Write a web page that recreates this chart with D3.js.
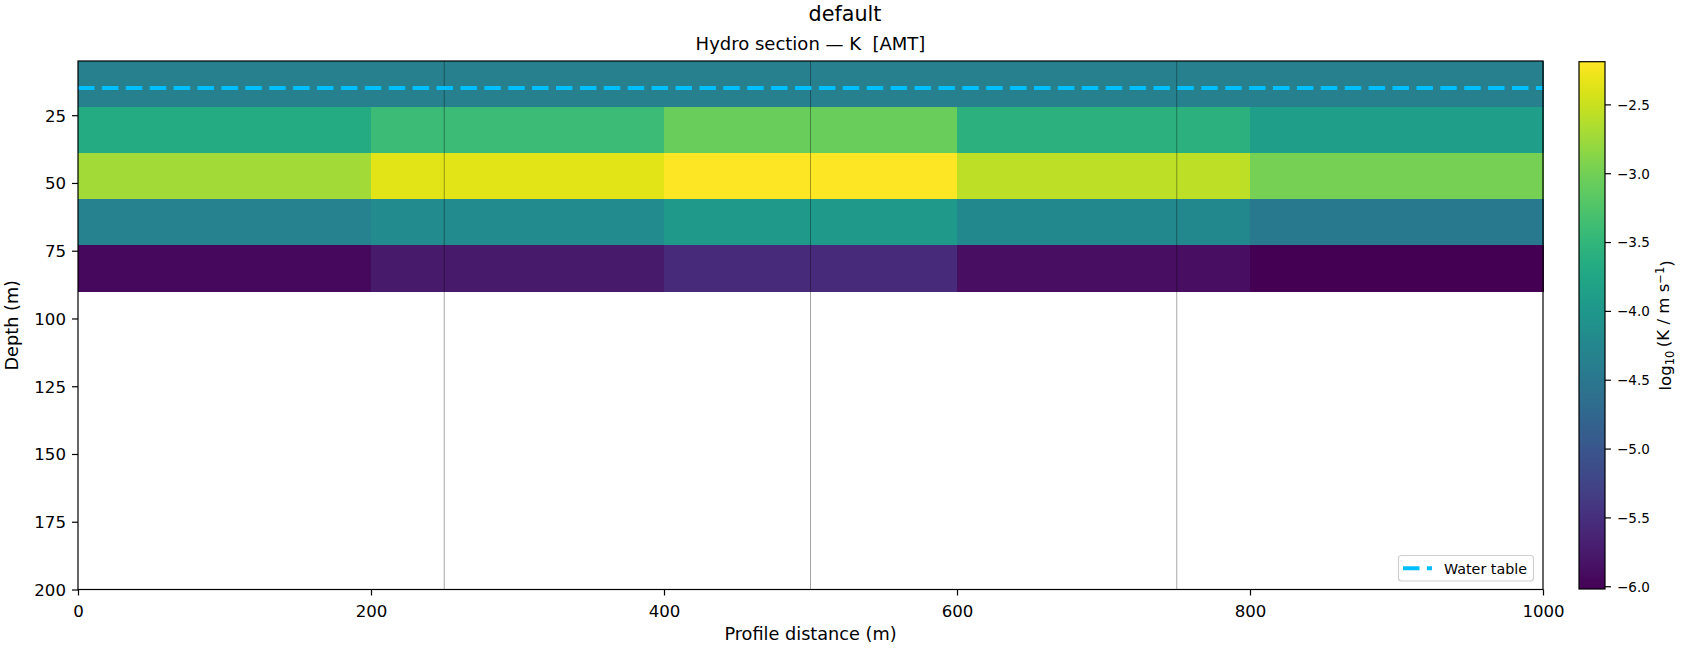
<!DOCTYPE html>
<html>
<head>
<meta charset="utf-8">
<script src="https://cdn.jsdelivr.net/npm/d3@7"></script>
<style>
  html, body { margin: 0; padding: 0; background: #fff; }
  svg { display: block; font-family: "DejaVu Sans", sans-serif; }
</style>
</head>
<body>
<svg id="chart" width="1690" height="650"></svg>
<script>
// ---- data ----
const distanceEdges = [0, 200, 400, 600, 800, 1000];
const depthEdges = [5, 22, 39, 56, 73, 90];
// log10(K) per layer (rows, top to bottom) and per distance block (columns)
const layer1 = [-4.37, -4.37, -4.37, -4.37, -4.37];
const layer2 = [-3.68, -3.41, -3.07, -3.57, -3.89];
const layer3 = [-2.72, -2.36, -2.19, -2.57, -2.99];
const layer4 = [-4.33, -4.18, -3.96, -4.23, -4.47];
const layer5 = [-5.94, -5.76, -5.56, -5.88, -6.02];
const layers = [layer1, layer2, layer3, layer4, layer5];
const waterTableDepth = 15;
const stationX = [250, 500, 750];
const xTicks = [0, 200, 400, 600, 800, 1000];
const yTicks = [25, 50, 75, 100, 125, 150, 175, 200];
const cbTicks = [-2.5, -3.0, -3.5, -4.0, -4.5, -5.0, -5.5, -6.0];
const xDomain = [0, 1000];
const yDomain = [5, 200];

// ---- layout ----
const svg = d3.select("#chart");
const L = 78, R = 1543, T = 61, B = 589.5;
const x = d3.scaleLinear().domain(xDomain).range([L, R]);
const y = d3.scaleLinear().domain(yDomain).range([T, B]);

const allVals = layers.flat();
const vExt = d3.extent(allVals);
const color = d3.scaleSequential(d3.interpolateViridis).domain(vExt);

// cells
const cells = [];
layers.forEach((row, i) => row.forEach((v, j) => cells.push({i, j, v})));
svg.append("g").selectAll("rect").data(cells).join("rect")
  .attr("x", d => x(distanceEdges[d.j]))
  .attr("y", d => y(depthEdges[d.i]))
  .attr("width", d => x(distanceEdges[d.j + 1]) - x(distanceEdges[d.j]) + 0.5)
  .attr("height", d => y(depthEdges[d.i + 1]) - y(depthEdges[d.i]) + 0.5)
  .attr("fill", d => color(d.v))
  .attr("shape-rendering", "crispEdges");

// station lines
svg.append("g").selectAll("line").data(stationX).join("line")
  .attr("x1", d => x(d)).attr("x2", d => x(d))
  .attr("y1", y(yDomain[0])).attr("y2", y(yDomain[1]))
  .attr("stroke", "#000").attr("stroke-opacity", 0.35).attr("stroke-width", 1);

// water table
svg.append("line")
  .attr("x1", x(xDomain[0])).attr("x2", x(xDomain[1]))
  .attr("y1", y(waterTableDepth)).attr("y2", y(waterTableDepth))
  .attr("stroke", "#00bfff").attr("stroke-width", 4)
  .attr("stroke-dasharray", "16.5,7.4");

// frame
svg.append("rect").attr("x", L).attr("y", T).attr("width", R - L).attr("height", B - T)
  .attr("fill", "none").attr("stroke", "#000").attr("stroke-width", 1.2);

// axes
const xAxis = svg.append("g").attr("transform", `translate(0,${B})`)
  .call(d3.axisBottom(x).tickValues(xTicks).tickFormat(d3.format("d")).tickSize(6).tickPadding(6));
const yAxis = svg.append("g").attr("transform", `translate(${L},0)`)
  .call(d3.axisLeft(y).tickValues(yTicks).tickFormat(d3.format("d")).tickSize(6).tickPadding(6));
[xAxis, yAxis].forEach(a => {
  a.select(".domain").remove();
  a.selectAll(".tick line").attr("stroke", "#000").attr("stroke-width", 1.2);
  a.selectAll(".tick text").attr("fill", "#000").style("font-size", "16.6px")
    .style("font-family", "DejaVu Sans, sans-serif");
});
xAxis.selectAll(".tick text").attr("dy", "0.95em");
yAxis.selectAll(".tick text").attr("dy", "0.36em");

// labels
svg.append("text").attr("x", (L + R) / 2).attr("y", 640).attr("text-anchor", "middle")
  .style("font-size", "17.7px").text("Profile distance (m)");
svg.append("text").attr("transform", `translate(18,${(T + B) / 2}) rotate(-90)`)
  .attr("text-anchor", "middle").style("font-size", "17.7px").text("Depth (m)");
svg.append("text").attr("x", 845).attr("y", 21).attr("text-anchor", "middle")
  .style("font-size", "20.7px").text("default");
svg.append("text").attr("x", (L + R) / 2).attr("y", 50).attr("text-anchor", "middle")
  .style("font-size", "18px").style("white-space", "pre").attr("xml:space", "preserve")
  .text("Hydro section — K  [AMT]");

// legend
const lg = svg.append("g");
lg.append("rect").attr("x", 1398.5).attr("y", 555.5).attr("width", 135).attr("height", 25.5)
  .attr("rx", 3).attr("fill", "#fff").attr("fill-opacity", 0.8)
  .attr("stroke", "#d0d0d0").attr("stroke-width", 1.2);
lg.append("line").attr("x1", 1403).attr("x2", 1432).attr("y1", 568.3).attr("y2", 568.3)
  .attr("stroke", "#00bfff").attr("stroke-width", 4).attr("stroke-dasharray", "16.5,7.4");
lg.append("text").attr("x", 1444).attr("y", 573.5).style("font-size", "14.3px").text("Water table");

// colorbar
const cbL = 1579, cbW = 26, cbT = 61.7, cbB = 589;
const cy = d3.scaleLinear().domain(vExt).range([cbB, cbT]);
const defs = svg.append("defs");
const grad = defs.append("linearGradient").attr("id", "cbgrad")
  .attr("x1", 0).attr("y1", 1).attr("x2", 0).attr("y2", 0);
d3.range(0, 1.0001, 0.02).forEach(t => {
  grad.append("stop").attr("offset", t).attr("stop-color", d3.interpolateViridis(t));
});
svg.append("rect").attr("x", cbL).attr("y", cbT).attr("width", cbW).attr("height", cbB - cbT)
  .attr("fill", "url(#cbgrad)").attr("stroke", "#000").attr("stroke-width", 1.2);
const cbAxis = svg.append("g").attr("transform", `translate(${cbL + cbW},0)`)
  .call(d3.axisRight(cy).tickValues(cbTicks).tickFormat(d3.format(".1f")).tickSize(6).tickPadding(6));
cbAxis.select(".domain").remove();
cbAxis.selectAll(".tick line").attr("stroke", "#000").attr("stroke-width", 1.2);
cbAxis.selectAll(".tick text").attr("fill", "#000").style("font-size", "13.5px")
  .style("font-family", "DejaVu Sans, sans-serif").attr("dy", "0.36em");

const cbl = svg.append("text").attr("transform", `translate(1671,${(cbT + cbB) / 2}) rotate(-90)`)
  .attr("text-anchor", "middle").style("font-size", "16.6px");
cbl.append("tspan").text("log");
cbl.append("tspan").attr("dy", "0.3em").style("font-size", "11.5px").text("10");
cbl.append("tspan").attr("dy", "-0.3em").text("\u2009(K / m s");
cbl.append("tspan").attr("dy", "-0.45em").style("font-size", "11.5px").text("\u22121");
cbl.append("tspan").attr("dy", "0.45em").text(")");
</script>
</body>
</html>
